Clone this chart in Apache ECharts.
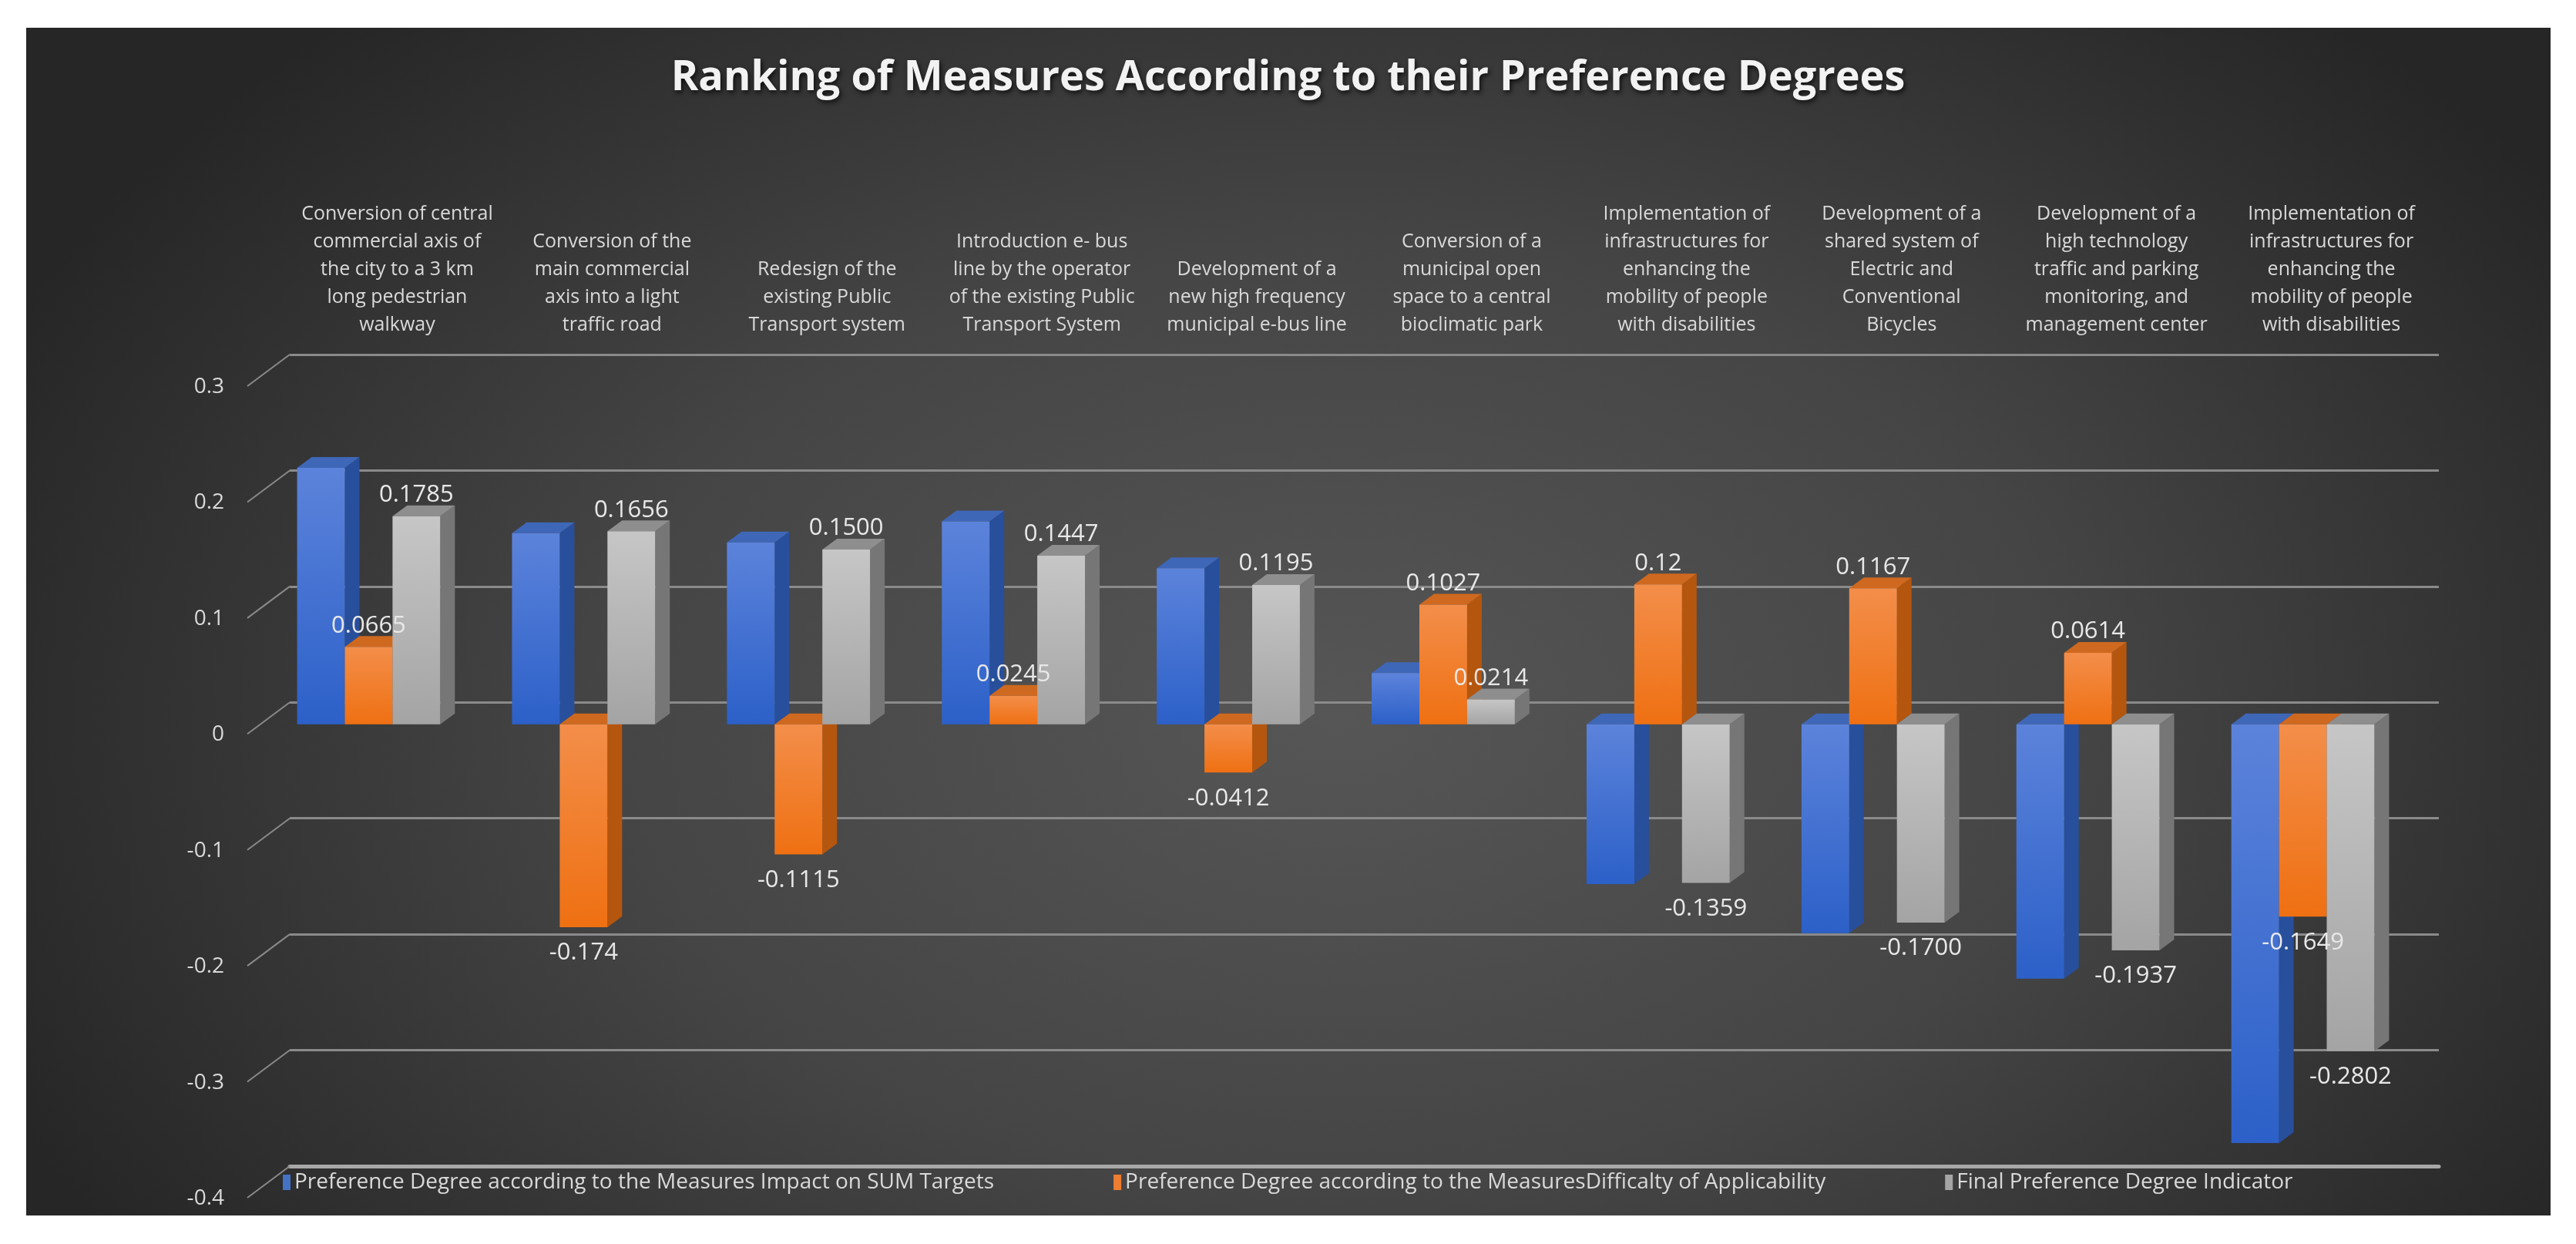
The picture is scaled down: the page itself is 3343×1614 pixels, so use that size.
<!DOCTYPE html>
<html>
<head>
<meta charset="utf-8">
<script src="https://cdn.jsdelivr.net/npm/echarts@6/dist/echarts.min.js"></script>
<style>
html, body { margin: 0; padding: 0; background: #fff; }
#panel {
  position: absolute; left: 34px; top: 36px; width: 3276px; height: 1541px;
  background: radial-gradient(ellipse 58% 80% at 52% 58%, #565656 0%, #454545 50%, #262626 100%);
}
#chart { position: absolute; left: 0; top: 0; width: 3343px; height: 1614px; }
</style>
</head>
<body>
<div id="panel"></div>
<div id="chart"></div>
<script>
// measures, in the order shown on the chart
const categories = [
  'Conversion of central\ncommercial axis of\nthe city to a 3 km\nlong pedestrian\nwalkway',
  'Conversion of the\nmain commercial\naxis into a light\ntraffic road',
  'Redesign of the\nexisting Public\nTransport system',
  'Introduction e- bus\nline by the operator\nof the existing Public\nTransport System',
  'Development of a\nnew high frequency\nmunicipal e-bus line',
  'Conversion of a\nmunicipal open\nspace to a central\nbioclimatic park',
  'Implementation of\ninfrastructures for\nenhancing the\nmobility of people\nwith disabilities',
  'Development of a\nshared system of\nElectric and\nConventional\nBicycles',
  'Development of a\nhigh technology\ntraffic and parking\nmonitoring, and\nmanagement center',
  'Implementation of\ninfrastructures for\nenhancing the\nmobility of people\nwith disabilities'
]

const seriesNames = [
  'Preference Degree according to the Measures Impact on SUM Targets',
  'Preference Degree according to the MeasuresDifficalty of Applicability',
  'Final Preference Degree Indicator'
]

// blue bars carry no labels
const impactValues = [0.220, 0.164, 0.156, 0.174, 0.134, 0.044, -0.137, -0.179, -0.218, -0.359]
const difficultyValues = [0.0665, -0.174, -0.1115, 0.0245, -0.0412, 0.1027, 0.12, 0.1167, 0.0614, -0.1649]
const finalValues = [0.1785, 0.1656, 0.1500, 0.1447, 0.1195, 0.0214, -0.1359, -0.1700, -0.1937, -0.2802]

const yTicks = [0.3, 0.2, 0.1, 0, -0.1, -0.2, -0.3, -0.4]
const yMin = -0.4, yMax = 0.3, yStep = 0.1

const faces = [
  {front: ['#5c83db', '#2c60c8'], side: '#284f9c', top: '#3f67b8', legend: '#4472c4'},
  {front: ['#f38e4a', '#ef7012'], side: '#b5560f', top: '#cf691f', legend: '#ed7d31'},
  {front: ['#c6c6c6', '#a4a4a4'], side: '#767676', top: '#8e8e8e', legend: '#a5a5a5'}
]
const DX = 19, DY = -14
const labelFont = '31px "Open Sans", sans-serif'

function barRenderer (k, fmt) {
  return function (params, api) {
    const i = api.value(0)
    const v = api.value(1)
    const base = api.coord([i, 0])
    const end = api.coord([i, v])
    const band = api.size([1, 0])[0]
    const w = band * 0.222
    const x = base[0] - 1.5 * w + k * w
    const yTop = Math.min(base[1], end[1])
    const yBot = Math.max(base[1], end[1])
    const f = faces[k]
    const children = [
      {type: 'polygon', shape: {points: [[x + w, yTop], [x + w + DX, yTop + DY], [x + w + DX, yBot + DY], [x + w, yBot]]}, style: {fill: f.side}},
      {type: 'polygon', shape: {points: [[x, yTop], [x + DX, yTop + DY], [x + w + DX, yTop + DY], [x + w, yTop]]}, style: {fill: f.top}},
      {type: 'rect', shape: {x: x, y: yTop, width: w, height: yBot - yTop},
        style: {fill: new echarts.graphic.LinearGradient(0, 0, 0, 1, [
          {offset: 0, color: f.front[0]}, {offset: 1, color: f.front[1]}])}}
    ]
    if (fmt) {
      children.push({
        type: 'text', z2: 100,
        x: x + w / 2,
        y: v >= 0 ? yTop + DY + 2 : yBot + 18,
        style: {text: fmt(v), fill: '#e8e8e8', font: labelFont, align: 'center', verticalAlign: v >= 0 ? 'bottom' : 'top'}
      })
    }
    return {type: 'group', children: children}
  }
}

function barSeries (k, values, fmt) {
  return {
    name: seriesNames[k],
    type: 'custom',
    xAxisIndex: 1,
    yAxisIndex: 1,
    itemStyle: {color: faces[k].legend},
    data: values.map((v, i) => [i, v]),
    renderItem: barRenderer(k, fmt)
  }
}

const chart = echarts.init(document.getElementById('chart'))

chart.setOption({
  animation: false,
  title: {
    text: 'Ranking of Measures According to their Preference Degrees',
    left: 'center',
    top: 70,
    textStyle: {
      color: '#f2f2f2', fontSize: 54, fontWeight: 'bold', fontFamily: 'Open Sans',
      textShadowColor: 'rgba(0,0,0,0.75)', textShadowBlur: 6, textShadowOffsetX: 2, textShadowOffsetY: 3
    }
  },
  legend: {
    data: seriesNames,
    left: 362,
    top: 1515,
    icon: 'rect',
    itemWidth: 10,
    itemHeight: 20,
    itemGap: 155,
    textStyle: {color: '#d9d9d9', fontSize: 28, fontFamily: 'Open Sans'}
  },
  grid: [
    // where the value labels sit (front edge of the floor)
    {left: 321, top: 502, right: 200, bottom: 59},
    // front plane of the bars
    {left: 339, top: 486, right: 215, bottom: 69},
    // back wall
    {left: 376, top: 460, right: 178, bottom: 101}
  ],
  xAxis: [
    {gridIndex: 0, type: 'category', data: categories, show: false},
    {gridIndex: 1, type: 'category', data: categories, show: false},
    {
      gridIndex: 2, type: 'category', data: categories, position: 'top',
      axisLine: {show: false}, axisTick: {show: false},
      axisLabel: {interval: 0, margin: 20, color: '#d9d9d9', fontSize: 25, lineHeight: 36, fontFamily: 'Open Sans'}
    },
    {
      gridIndex: 2, type: 'category', data: categories, position: 'bottom',
      axisLine: {show: true, lineStyle: {color: '#a8a8a8', width: 5}},
      axisTick: {show: false}, axisLabel: {show: false}
    }
  ],
  yAxis: [
    {
      gridIndex: 0, type: 'value', min: yMin, max: yMax, interval: yStep,
      axisLine: {show: false}, axisTick: {show: false}, splitLine: {show: false},
      axisLabel: {margin: 30, color: '#d9d9d9', fontSize: 28, fontFamily: 'Open Sans'}
    },
    {gridIndex: 1, type: 'value', min: yMin, max: yMax, interval: yStep, show: false},
    {
      gridIndex: 2, type: 'value', min: yMin, max: yMax, interval: yStep,
      axisLine: {show: false}, axisTick: {show: false}, axisLabel: {show: false},
      splitLine: {show: true, lineStyle: {color: '#8a8a8a', width: 3}}
    }
  ],
  series: [
    {
      // slanted gridline ends on the left wall
      type: 'custom',
      xAxisIndex: 2,
      yAxisIndex: 2,
      silent: true,
      data: yTicks.map(v => [0, v]),
      renderItem: function (params, api) {
        const y = api.coord([0, api.value(1)])[1]
        const x = params.coordSys.x
        return {type: 'line', shape: {x1: x, y1: y, x2: x - 55, y2: y + 41}, style: {stroke: '#8a8a8a', lineWidth: 2}}
      }
    },
    barSeries(0, impactValues, null),
    barSeries(1, difficultyValues, v => String(v)),
    barSeries(2, finalValues, v => v.toFixed(4))
  ]
})
</script>
</body>
</html>
